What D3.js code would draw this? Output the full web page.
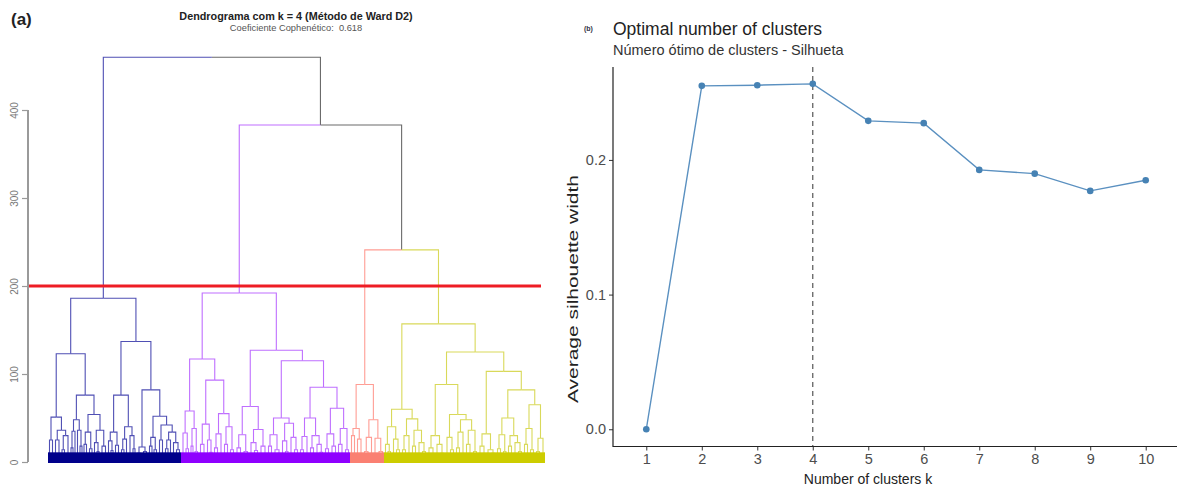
<!DOCTYPE html>
<html>
<head>
<meta charset="utf-8">
<script src="https://cdn.jsdelivr.net/npm/d3@7"></script>
<style>
  body { margin: 0; background: #fff; }
  svg { display: block; font-family: "Liberation Sans", Arial, sans-serif; }
</style>
</head>
<body>
<div id="chart"></div>
<script>
// ---------- data: (a) dendrogram ----------
// node = [height, left, right]; a plain number is a group of leaves (width in leaf units)
var clusterBlue = [186,
  [123,
    [51, [25, 3, 3], [36, [25, 3, 4], [30, [14, 2, 3], 4]]],
    [76, [48, [35, [16, 2, 2], 2], [36, 3, [18, 2, 2]]], [54, [34, [20, 2, 3], [15, 3, 2]], [36, [22, 3, [12, 2, 2]], [18, 4, 3]]]]
  ],
  [137,
    [76, [34, [24, 3, [13, 2, 2]], [19, 3, 3]], [40, [26, [14, 3, 2], 3], [30, 4, [15, 2, 2]]]],
    [82, [17, [10, 3, 3], [12, 3, 3]], [52, [28, [18, 3, 2], [14, 2, 3]], [42, [25, 3, 3], [34, [25, [15, 3, 2], 3], [22, 3, [14, 3, 3]]]]]]
  ]
];
var clusterPurple = [192,
  [117,
    [58, [33, 4, [15, 2, 3]], [38, [18, 2, 2], [12, 2, 3]]],
    [93, [43, [20, 3, 4], [25, 3, [11, 2, 2]]], [55, [32, [16, 3, 3], 4], [40, [20, 3, 3], [14, 3, 3]]]]
  ],
  [127,
    [63, [31, [16, 4, 3], [12, 4, 3]], [37, [22, 4, [13, 3, 3]], [18, 4, 4]]],
    [115,
      [50, [31, [18, 3, 3], [14, 4, [10, 2, 2]]], [44, [24, 3, [12, 3, 2]], [28, 4, [14, 3, 3]]]],
      [85, [50, [29, [14, 3, 3], 4], [30, [16, 3, 3], [20, 4, [11, 2, 3]]]], [61, [32, [15, 3, 3], [18, 4, 3]], [38, [20, 3, 4], [14, 3, 3]]]]
    ]
  ]
];
var clusterSalmon = [88, [38, [30, 3, 3], [26, 3, 4]], [48, [28, [12, 3, 4], 3], [27, 4, [12, 4, 3]]]];
var clusterYellow = [157,
  [60,
    [40, [20, 3, [12, 2, 3]], [26, 3, [14, 3, 3]]],
    [49, [30, [14, 3, 3], 4], [36, [18, 3, 3], [22, 4, [12, 3, 3]]]]
  ],
  [125,
    [88,
      [30, [16, 4, 4], [20, 4, [10, 3, 3]]],
      [54, [28, 4, [14, 3, 3]], [48, [34, [16, 3, 3], 4], [36, [20, 3, 4], [12, 3, 3]]]]
    ],
    [103,
      [32, [18, 4, 4], [14, 4, [10, 3, 3]]],
      [82,
        [50, [31, [15, 3, 3], [12, 3, 2]], [30, [18, 3, 3], [22, 4, [12, 3, 3]]]],
        [65, [38, [20, 3, 3], [14, 3, 3]], [27, [12, 3, 3], 4]]
      ]
    ]
  ]
];
var mergeHeights = [460, 383, 241];   // root, purple vs rest, salmon vs yellow
var clusterLineColors = ["#4f4fb4", "#bf6fff", "#ff9d94", "#d9d95a"];
var clusterBandColors = ["#00008b", "#8f00ff", "#fa8072", "#cdcd00"];
var cutHeight = 200;
var dendroTicks = [0, 100, 200, 300, 400];

// ---------- data: (b) silhouette ----------
var kValues = [1, 2, 3, 4, 5, 6, 7, 8, 9, 10];
var silWidth = [0, 0.2550, 0.2555, 0.2565, 0.2290, 0.2273, 0.1926, 0.1898, 0.1770, 0.1849];
var bestK = 4;
var silTicks = [0, 0.1, 0.2];

var svg = d3.select("#chart").append("svg")
    .attr("width", 1177)
    .attr("height", 488);

// ================= (a) dendrogram =================
var clusters = [clusterBlue, clusterPurple, clusterSalmon, clusterYellow];
var treeData = [mergeHeights[0], clusterBlue, [mergeHeights[1], clusterPurple, [mergeHeights[2], clusterSalmon, clusterYellow]]];

var root = d3.hierarchy(treeData, function(d){ return Array.isArray(d) ? d.slice(1) : null; });
var leaves = root.leaves();
var totalLeaves = d3.sum(leaves, function(d){ return d.data; });

var xDen = d3.scaleLinear().domain([0, totalLeaves]).range([48, 545]);
var yDen = d3.scaleLinear().domain([0, 400]).range([462, 110]);

// leaves left to right, internal nodes sit at the mean of their children (like R)
var cum = 0;
leaves.forEach(function(l){
    l.x0 = cum;
    l.x1 = cum + l.data;
    cum = l.x1;
    l.px = xDen((l.x0 + l.x1) / 2);
    l.h = 0;
});
root.eachAfter(function(n){
    if (n.children) {
        n.px = d3.mean(n.children, function(c){ return c.px; });
        n.h = n.data[0];
        n.x0 = n.children[0].x0;
        n.x1 = n.children[n.children.length - 1].x1;
    }
});
root.each(function(n){
    var ci = clusters.indexOf(n.data);
    n.cluster = ci >= 0 ? ci : (n.parent ? n.parent.cluster : -1);
});

var gDen = svg.append("g");

// one elbow per child: across at the parent's height, then down
gDen.selectAll(".branch")
    .data(root.descendants().filter(function(n){ return n.parent; }))
    .join("path")
    .attr("class", "branch")
    .attr("d", function(n){
        return "M" + n.parent.px + "," + yDen(n.parent.h) + "H" + n.px + "V" + yDen(n.h);
    })
    .attr("fill", "none")
    .attr("stroke", function(n){ return n.cluster >= 0 ? clusterLineColors[n.cluster] : "#6a6a6a"; })
    .attr("stroke-width", 1.1);

// dense leaf band at the bottom of each cluster (drawn over the leaf stems)
var bandTop = 11;
gDen.selectAll(".band")
    .data(root.descendants().filter(function(n){ return clusters.indexOf(n.data) >= 0; }))
    .join("rect")
    .attr("class", "band")
    .attr("x", function(d){ return xDen(d.x0); })
    .attr("width", function(d){ return xDen(d.x1) - xDen(d.x0); })
    .attr("y", yDen(bandTop))
    .attr("height", yDen(0) - yDen(bandTop) + 1)
    .attr("fill", function(d){ return clusterBandColors[d.cluster]; });

// cut line at h = 200
gDen.append("line")
    .attr("x1", 28).attr("x2", 541)
    .attr("y1", yDen(cutHeight)).attr("y2", yDen(cutHeight))
    .attr("stroke", "#ee1c25")
    .attr("stroke-width", 3);

// y axis (rotated labels, like base R)
var yAxisDen = gDen.append("g")
    .attr("transform", "translate(28,0)")
    .call(d3.axisLeft(yDen).tickValues(dendroTicks).tickSize(6).tickFormat(d3.format("d")));
yAxisDen.select(".domain").remove();
yAxisDen.selectAll("line").attr("stroke", "#9a9a9a").attr("stroke-width", 1.2);
yAxisDen.selectAll("text")
    .attr("transform", "rotate(-90)")
    .attr("x", 0).attr("y", -10).attr("dy", 0)
    .style("text-anchor", "middle")
    .style("font-size", "10px")
    .style("font-family", "Liberation Sans, Arial, sans-serif")
    .attr("fill", "#777");
gDen.append("line")
    .attr("x1", 28).attr("x2", 28)
    .attr("y1", yDen(0)).attr("y2", yDen(400))
    .attr("stroke", "#9a9a9a").attr("stroke-width", 2);

gDen.append("text")
    .attr("x", 11).attr("y", 25)
    .style("font-size", "17px").style("font-weight", "bold")
    .attr("fill", "#222")
    .text("(a)");
gDen.append("text")
    .attr("x", 296).attr("y", 20)
    .attr("text-anchor", "middle")
    .style("font-size", "10.8px").style("font-weight", "bold")
    .attr("fill", "#222")
    .text("Dendrograma com k = 4 (Método de Ward D2)");
gDen.append("text")
    .attr("x", 296).attr("y", 31)
    .attr("text-anchor", "middle")
    .style("font-size", "9.3px")
    .style("white-space", "pre")
    .attr("fill", "#555")
    .text("Coeficiente Cophenético:  0.618");

// ================= (b) silhouette =================
var xSil = d3.scaleLinear().domain([0.4, 10.6]).range([613, 1179]);
var ySil = d3.scaleLinear().domain([-0.0128, 0.269]).range([446.5, 67]);

var gSil = svg.append("g");

gSil.append("line")
    .attr("x1", xSil(bestK)).attr("x2", xSil(bestK))
    .attr("y1", ySil.range()[1]).attr("y2", ySil.range()[0])
    .attr("stroke", "#555")
    .attr("stroke-width", 1.2)
    .attr("stroke-dasharray", "5,4");

var silData = kValues.map(function(k, i){ return { k: k, s: silWidth[i] }; });

gSil.append("path")
    .datum(silData)
    .attr("fill", "none")
    .attr("stroke", "#5a90c0")
    .attr("stroke-width", 1.4)
    .attr("d", d3.line().x(function(d){ return xSil(d.k); }).y(function(d){ return ySil(d.s); }));

gSil.selectAll(".pt")
    .data(silData)
    .join("circle")
    .attr("class", "pt")
    .attr("cx", function(d){ return xSil(d.k); })
    .attr("cy", function(d){ return ySil(d.s); })
    .attr("r", 3.3)
    .attr("fill", "#4682b4");

var xAxisSil = gSil.append("g")
    .attr("transform", "translate(0," + ySil.range()[0] + ")")
    .call(d3.axisBottom(xSil).tickValues(kValues).tickSize(4).tickPadding(3).tickFormat(d3.format("d")));
var yAxisSil = gSil.append("g")
    .attr("transform", "translate(" + xSil.range()[0] + ",0)")
    .call(d3.axisLeft(ySil).tickValues(silTicks).tickSize(4).tickPadding(3).tickFormat(d3.format(".1f")));
[xAxisSil, yAxisSil].forEach(function(ax){
    ax.select(".domain").remove();
    ax.selectAll("line").attr("stroke", "#333");
    ax.selectAll("text")
        .attr("fill", "#4d4d4d")
        .style("font-size", "14.5px")
        .style("font-family", "Liberation Sans, Arial, sans-serif");
});
// panel edges
gSil.append("path")
    .attr("d", "M" + xSil.range()[0] + "," + ySil.range()[1] + "V" + ySil.range()[0] + "H1177")
    .attr("fill", "none")
    .attr("stroke", "#222")
    .attr("stroke-width", 1.2);

gSil.append("text")
    .attr("x", 868).attr("y", 484)
    .attr("text-anchor", "middle")
    .style("font-size", "14px")
    .attr("fill", "#222")
    .text("Number of clusters k");
// the reference label is stretched along its length
gSil.append("text")
    .attr("transform", "translate(578,289) rotate(-90)")
    .attr("text-anchor", "middle")
    .attr("textLength", 228)
    .attr("lengthAdjust", "spacingAndGlyphs")
    .style("font-size", "14.5px")
    .attr("fill", "#222")
    .text("Average silhouette width");

gSil.append("text")
    .attr("x", 584).attr("y", 31)
    .style("font-size", "7px").style("font-weight", "bold")
    .attr("fill", "#334")
    .text("(b)");
gSil.append("text")
    .attr("x", 613).attr("y", 35)
    .style("font-size", "17.5px")
    .attr("fill", "#222")
    .text("Optimal number of clusters");
gSil.append("text")
    .attr("x", 613).attr("y", 55)
    .style("font-size", "14.5px")
    .attr("fill", "#333")
    .text("Número ótimo de clusters - Silhueta");
</script>
</body>
</html>
